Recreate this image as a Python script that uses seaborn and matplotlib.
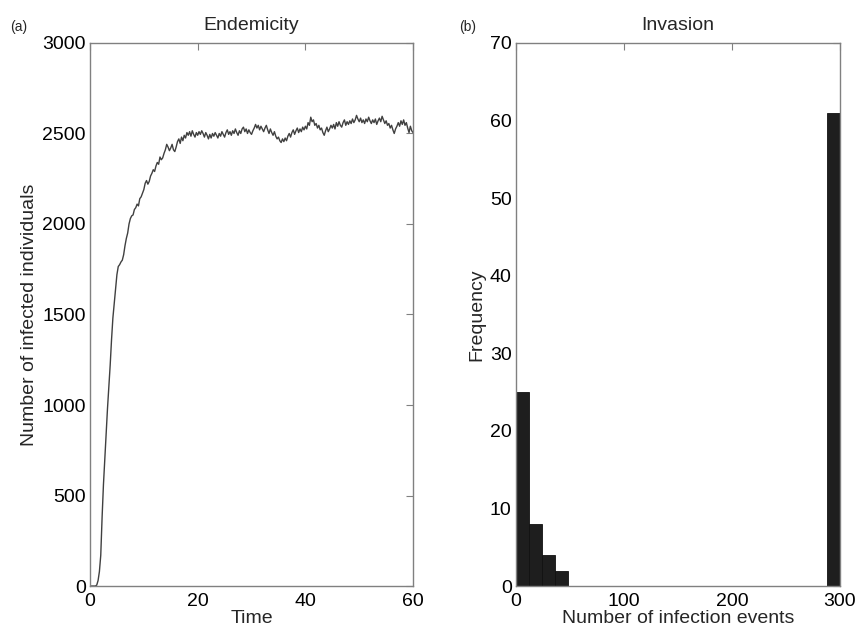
"""
Endemicity time series and invasion-size histogram (two panels).
"""
import matplotlib
matplotlib.use("Agg")
import matplotlib.pyplot as plt
import numpy as np
import pandas as pd
import seaborn as sns

# ---- panel (a): number of infected individuals over time (step 0.25)
time_points = np.arange(0, 60.01, 0.25)
infected = [
    0, 0, 0, 0, 0, 5, 30, 80,
    170, 380, 560, 700, 830, 980, 1100, 1220,
    1360, 1480, 1560, 1640, 1720, 1765, 1775, 1790,
    1800, 1830, 1880, 1920, 1950, 2000, 2030, 2045,
    2050, 2080, 2090, 2110, 2100, 2140, 2150, 2170,
    2190, 2225, 2240, 2220, 2235, 2265, 2280, 2300,
    2290, 2320, 2340, 2330, 2370, 2355, 2365, 2390,
    2410, 2440, 2425, 2405, 2420, 2440, 2410, 2400,
    2425, 2455, 2470, 2445, 2480, 2460, 2490, 2475,
    2505, 2490, 2510, 2485, 2515, 2495, 2480, 2505,
    2490, 2510, 2495, 2515, 2500, 2480, 2505, 2490,
    2470, 2495, 2475, 2500, 2485, 2505, 2490, 2475,
    2500, 2485, 2510, 2495, 2480, 2505, 2520, 2495,
    2510, 2490, 2515, 2500, 2525, 2505, 2490, 2515,
    2500, 2525, 2535, 2510, 2525, 2500, 2520, 2505,
    2495, 2515, 2530, 2550, 2530, 2545, 2520, 2540,
    2525, 2510, 2530, 2545, 2520, 2500, 2525, 2505,
    2490, 2510, 2485, 2470, 2480, 2460, 2450, 2470,
    2455, 2475, 2460, 2485, 2500, 2480, 2505, 2520,
    2495, 2515, 2530, 2505, 2525, 2510, 2535, 2520,
    2540, 2525, 2560, 2545, 2590, 2565, 2575, 2545,
    2555, 2530, 2545, 2520, 2530, 2505, 2490, 2515,
    2535, 2510, 2525, 2545, 2530, 2550, 2525, 2560,
    2540, 2565, 2545, 2535, 2560, 2575, 2545, 2565,
    2550, 2570, 2555, 2580, 2560, 2575, 2600, 2580,
    2565, 2585, 2560, 2575, 2555, 2580, 2565, 2590,
    2570, 2555, 2575, 2560, 2580, 2550, 2570, 2585,
    2565, 2595, 2575, 2555, 2570, 2545, 2555, 2530,
    2545, 2520, 2500, 2525, 2540, 2560, 2540, 2570,
    2550, 2575, 2545, 2560, 2530, 2505, 2540, 2515,
    2505,
]

# ---- panel (b): histogram of final outbreak sizes (bins of width 12)
bin_edges = list(range(0, 301, 12))
bin_counts = [25, 8, 4, 2, 0, 0, 0, 0, 0, 0, 0, 0,
              0, 0, 0, 0, 0, 0, 0, 0, 0, 0, 0, 0, 61]

sns.set_style("white")
plt.rcParams.update({
    "font.family": ["Liberation Sans", "DejaVu Sans"],
    "axes.edgecolor": "#808080",
    "axes.linewidth": 1.0,
    "xtick.direction": "in",
    "ytick.direction": "in",
    "xtick.top": True,
    "ytick.right": True,
    "xtick.color": "#808080",
    "ytick.color": "#808080",
    "xtick.labelcolor": "black",
    "ytick.labelcolor": "black",
    "xtick.major.size": 5,
    "ytick.major.size": 5,
    "xtick.labelsize": 14,
    "ytick.labelsize": 14,
})

fig = plt.figure(figsize=(8.57, 6.3), dpi=100)
ax_a = fig.add_axes([0.105, 0.0698, 0.377, 0.862])
ax_b = fig.add_axes([0.602, 0.0698, 0.378, 0.862])

df_a = pd.DataFrame({"time": time_points, "infected": infected})
sns.lineplot(data=df_a, x="time", y="infected", ax=ax_a,
             color="#404040", linewidth=1.0)
ax_a.set_xlim(0, 60)
ax_a.set_ylim(0, 3000)
ax_a.set_xticks([0, 20, 40, 60])
ax_a.set_yticks(np.arange(0, 3001, 500))
ax_a.set_xlabel("Time", fontsize=14, labelpad=0)
ax_a.set_ylabel("Number of infected individuals", fontsize=14, labelpad=3)
ax_a.set_title("Endemicity", fontsize=14, pad=9)

df_b = pd.DataFrame({"events": [e + 6 for e in bin_edges[:-1]], "count": bin_counts})
sns.histplot(data=df_b, x="events", weights="count", bins=bin_edges, ax=ax_b,
             color="#1e1e1e", edgecolor="#111111", linewidth=0.6, alpha=1)
ax_b.set_xlim(0, 300)
ax_b.set_ylim(0, 70)
ax_b.set_xticks([0, 100, 200, 300])
ax_b.set_yticks(np.arange(0, 71, 10))
ax_b.set_xlabel("Number of infection events", fontsize=14, labelpad=0)
ax_b.set_ylabel("Frequency", fontsize=14, labelpad=3)
ax_b.set_title("Invasion", fontsize=14, pad=9)

for ax in (ax_a, ax_b):
    for sp in ax.spines.values():
        sp.set_visible(True)
    ax.tick_params(axis="x", pad=5)
    ax.tick_params(axis="y", pad=3)

fig.text(10 / 857, 1 - 27 / 630, "(a)", fontsize=10, va="center")
fig.text(459 / 857, 1 - 27 / 630, "(b)", fontsize=10, va="center")

plt.savefig("out.png", dpi=100)
plt.close()
